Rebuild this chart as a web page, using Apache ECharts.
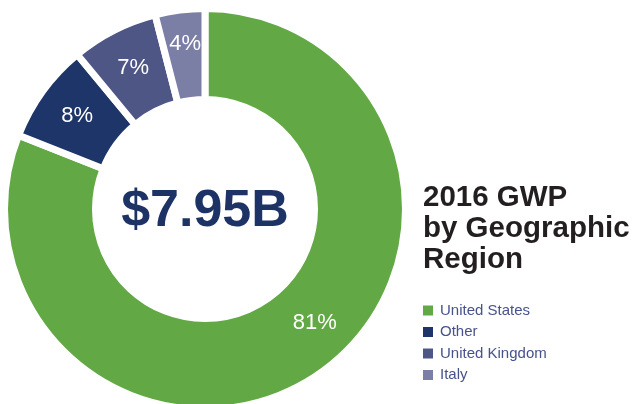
<!DOCTYPE html>
<html>
<head>
<meta charset="utf-8">
<script src="https://cdn.jsdelivr.net/npm/echarts@6/dist/echarts.min.js"></script>
<style>
  html, body { margin: 0; padding: 0; background: #fff; }
  #chart { width: 639px; height: 404px; }
</style>
</head>
<body>
<div id="chart"></div>
<script>
// GWP share by region (percent), clockwise from 12 o'clock
const regions = ['United States', 'Other', 'United Kingdom', 'Italy']
const shares = [81, 8, 7, 4]
const colors = ['#62a945', '#1d3568', '#4e5686', '#7b7ea5']
const totalLabel = '$7.95B'
const titleText = '2016 GWP\nby Geographic\nRegion'

const font = '"Liberation Sans", Arial, Helvetica, sans-serif'

let myChart = echarts.init(document.getElementById('chart'))
myChart.setOption({
  backgroundColor: '#fff',
  animation: false,
  color: colors,
  title: {
    text: titleText,
    left: 418,
    top: 177,
    textStyle: {
      fontFamily: font,
      fontSize: 29.5,
      lineHeight: 31,
      fontWeight: 'bold',
      color: '#231f20'
    }
  },
  legend: {
    orient: 'vertical',
    left: 418,
    top: 298,
    itemWidth: 10,
    itemHeight: 10,
    itemGap: 6.5,
    icon: 'rect',
    selectedMode: false,
    itemStyle: { borderWidth: 0 },
    textStyle: {
      fontFamily: font,
      fontSize: 15,
      lineHeight: 15,
      color: '#47528b',
      padding: [0, 0, 0, 2]
    },
    data: regions
  },
  graphic: [
    {
      type: 'text',
      x: 205,
      y: 212,
      z: 100,
      style: {
        text: totalLabel,
        align: 'center',
        verticalAlign: 'middle',
        fontFamily: font,
        fontSize: 52,
        fontWeight: 'bold',
        fill: '#1d3366'
      }
    }
  ],
  series: [
    {
      type: 'pie',
      center: [205, 209],
      // border eats 3.5px each side, so visible ring is ~113..197
      radius: [109.5, 200.5],
      startAngle: 90,
      clockwise: true,
      silent: true,
      itemStyle: {
        borderColor: '#fff',
        borderWidth: 7,
        borderJoin: 'miter'
      },
      label: {
        show: true,
        position: 'inside',
        formatter: '{c}%',
        fontFamily: font,
        fontSize: 22,
        color: '#fff'
      },
      labelLine: { show: false },
      labelLayout: function (params) {
        // the big slice's label sits nearer the right side in the original
        if (params.dataIndex === 0) return { dx: 21, dy: -17 }
        if (params.dataIndex === 3) return { dy: -8 }
        return {}
      },
      data: regions.map((name, i) => ({ name: name, value: shares[i] }))
    }
  ]
})
</script>
</body>
</html>
